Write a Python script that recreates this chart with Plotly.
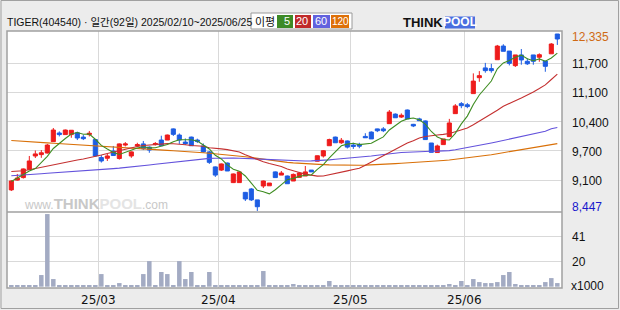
import plotly.graph_objects as go

# ---------------- data ----------------
days_feb = [10, 11, 12, 13, 14, 17, 18, 19, 20, 21, 24, 25, 26, 27, 28]
days_mar = [4, 5, 6, 7, 10, 11, 12, 13, 14, 17, 18, 19, 20, 21, 24, 25, 26, 27, 28, 31]
days_apr = [1, 2, 3, 4, 7, 8, 9, 10, 11, 14, 15, 16, 17, 18, 21, 22, 23, 24, 25, 28, 29, 30]
days_may = [2, 7, 8, 9, 12, 13, 14, 15, 16, 19, 20, 21, 22, 23, 26, 27, 28, 29, 30]
days_jun = [2, 4, 5, 9, 10, 11, 12, 13, 16, 17, 18, 19, 20, 23, 24, 25]
dates = ([f"2025-02-{d:02d}" for d in days_feb] + [f"2025-03-{d:02d}" for d in days_mar]
         + [f"2025-04-{d:02d}" for d in days_apr] + [f"2025-05-{d:02d}" for d in days_may]
         + [f"2025-06-{d:02d}" for d in days_jun])

opens = [8910, 9125, 9180, 9360, 9655, 9685, 9720, 9970, 10160, 10125,
         10125, 10165, 10070, 10125, 10015, 9620, 9605, 9765, 9600, 9895,
         9655, 9875, 9920, 9850, 9905, 10005, 10005, 10250, 10115, 9960,
         10070, 10005, 9875, 9745, 9415, 9345, 9500, 9070, 9070, 8855,
         8930, 8690, 8995, 9000, 9305, 9235, 9215, 9105, 9185, 9215,
         9345, 9540, 9655, 9880, 10070, 9945, 9985, 9895, 9910, 10085,
         10180, 10250, 10250, 10365, 10575, 10510, 10665, 10350, 10470, 10425,
         9940, 9730, 9905, 10080, 10585, 10805, 10780, 11025, 11375, 11590,
         11575, 11770, 12070, 11960, 11640, 11875, 11735, 11875, 11825, 11740,
         11900, 12335]
highs = [9125, 9260, 9380, 9655, 9775, 9785, 9920, 10270, 10195, 10235,
         10225, 10190, 10115, 10205, 10020, 9675, 9700, 9875, 9930, 9960,
         9755, 9945, 9985, 9865, 9960, 10100, 10125, 10260, 10150, 10040,
         10080, 10035, 9930, 9765, 9425, 9490, 9510, 9270, 9315, 8865,
         8950, 8690, 9115, 9060, 9315, 9325, 9225, 9270, 9305, 9435,
         9345, 9665, 9785, 10035, 10080, 10050, 9995, 9945, 9945, 10155,
         10195, 10255, 10290, 10665, 10590, 10590, 10675, 10360, 10495, 10435,
         9940, 9905, 10030, 10470, 10795, 10840, 10820, 11470, 11520, 11700,
         11680, 12095, 12110, 11960, 11875, 12005, 11800, 11875, 11910, 11740,
         12135, 12335]
lows = [8885, 9115, 9160, 9360, 9610, 9615, 9710, 9970, 10085, 10125,
        10055, 10005, 10005, 10085, 9645, 9510, 9545, 9655, 9575, 9865,
        9615, 9850, 9785, 9725, 9885, 9875, 10005, 10095, 9920, 9895,
        9875, 9940, 9730, 9480, 9195, 9325, 9325, 9060, 9070, 8665,
        8665, 8447, 8950, 9000, 9180, 9235, 9045, 9105, 9180, 9215,
        9305, 9535, 9620, 9880, 9945, 9920, 9820, 9810, 9825, 10055,
        10030, 10180, 10180, 10365, 10495, 10490, 10470, 10290, 10425, 10015,
        9735, 9730, 9905, 10075, 10585, 10705, 10705, 11025, 11285, 11485,
        11485, 11770, 11955, 11645, 11610, 11660, 11655, 11660, 11725, 11505,
        11900, 12095]
closes = [9105, 9170, 9370, 9545, 9700, 9725, 9895, 10225, 10125, 10225,
          10220, 10050, 10035, 10155, 9655, 9545, 9655, 9665, 9920, 9920,
          9745, 9905, 9815, 9785, 9930, 9880, 10115, 10130, 10005, 9925,
          9880, 9975, 9745, 9515, 9235, 9480, 9325, 9260, 9305, 8710,
          8690, 8540, 9105, 9060, 9180, 9280, 9045, 9250, 9280, 9305,
          9305, 9660, 9770, 10015, 9945, 10000, 9850, 9865, 9870, 10055,
          10030, 10210, 10210, 10620, 10495, 10550, 10470, 10315, 10430, 10015,
          9735, 9875, 10030, 10380, 10755, 10760, 10740, 11300, 11420, 11530,
          11530, 12070, 11955, 11690, 11875, 11765, 11680, 11735, 11880, 11625,
          12115, 12225]
volume_k = [0.8, 0.8, 0.8, 1.4, 1.4, 9.6, 59.8, 6.3, 0.8, 0.8,
            0.8, 0.8, 0.8, 0.8, 0.8, 10.4, 1.4, 1.4, 3.0, 0.8,
            1.4, 1.4, 10.4, 21.1, 0.8, 12.1, 10.4, 0.8, 21.1, 6.3,
            12.1, 0.8, 0.8, 12.1, 0.8, 0.8, 0.8, 0.8, 0.8, 0.8,
            0.8, 0.8, 12.9, 0.8, 1.4, 0.8, 0.8, 2.2, 0.8, 0.8,
            0.8, 0.8, 0.8, 4.7, 1.4, 0.8, 0.8, 0.8, 0.8, 1.4,
            0.8, 1.4, 0.8, 0.8, 0.8, 0.8, 0.8, 0.8, 0.8, 1.4,
            0.8, 0.8, 0.8, 2.2, 1.4, 4.7, 1.4, 6.3, 3.8, 3.0,
            3.0, 3.8, 9.6, 12.1, 2.2, 1.4, 1.4, 1.4, 0.8, 3.8,
            7.1, 3.0]
ma5 = [9094, 9171, 9248, 9325, 9378, 9503, 9648, 9820, 9934, 10039,
       10138, 10169, 10131, 10136, 10022, 9888, 9809, 9734, 9688, 9740,
       9780, 9830, 9859, 9833, 9835, 9863, 9905, 9969, 10013, 10013,
       10013, 9984, 9905, 9809, 9670, 9589, 9459, 9363, 9321, 9215,
       9057, 8901, 8870, 8822, 8914, 9033, 9134, 9163, 9207, 9233,
       9237, 9360, 9464, 9611, 9738, 9879, 9916, 9936, 9905, 9927,
       9934, 10006, 10074, 10226, 10314, 10417, 10470, 10490, 10452, 10356,
       10193, 10074, 10017, 10006, 10153, 10360, 10531, 10786, 10995, 11149,
       11302, 11570, 11700, 11755, 11823, 11871, 11792, 11748, 11788, 11737,
       11808, 11915]
ma20 = [9314, 9318, 9329, 9351, 9380, 9406, 9435, 9461, 9490, 9516,
        9545, 9567, 9589, 9615, 9644, 9677, 9710, 9743, 9769, 9795,
        9826, 9863, 9885, 9899, 9910, 9916, 9927, 9923, 9918, 9903,
        9885, 9881, 9868, 9835, 9815, 9811, 9795, 9773, 9743, 9683,
        9631, 9562, 9527, 9490, 9453, 9424, 9369, 9325, 9290, 9257,
        9228, 9213, 9215, 9239, 9275, 9301, 9327, 9358, 9387, 9453,
        9521, 9604, 9659, 9738, 9804, 9866, 9938, 9991, 10048, 10083,
        10105, 10116, 10129, 10147, 10189, 10226, 10270, 10342, 10419, 10494,
        10569, 10661, 10749, 10802, 10870, 10931, 10993, 11063, 11136, 11217,
        11335, 11452]
ma60 = [9222, 9228, 9235, 9244, 9253, 9264, 9275, 9283, 9294, 9305,
        9316, 9325, 9334, 9343, 9351, 9360, 9369, 9378, 9387, 9398,
        9413, 9428, 9444, 9457, 9472, 9488, 9505, 9523, 9538, 9554,
        9567, 9582, 9593, 9602, 9606, 9611, 9611, 9611, 9606, 9600,
        9593, 9584, 9576, 9567, 9560, 9554, 9549, 9545, 9545, 9545,
        9547, 9551, 9560, 9569, 9582, 9593, 9602, 9611, 9626, 9642,
        9655, 9672, 9690, 9707, 9721, 9732, 9738, 9747, 9751, 9756,
        9760, 9762, 9765, 9773, 9791, 9813, 9835, 9861, 9888, 9914,
        9940, 9967, 9995, 10024, 10050, 10077, 10105, 10131, 10164, 10200,
        10252, 10281]
ma120 = [9995, 9989, 9980, 9969, 9960, 9951, 9943, 9936, 9927, 9918,
         9910, 9901, 9892, 9881, 9872, 9861, 9852, 9844, 9835, 9826,
         9817, 9811, 9804, 9798, 9791, 9784, 9778, 9771, 9765, 9756,
         9747, 9738, 9727, 9716, 9705, 9692, 9679, 9666, 9653, 9637,
         9620, 9600, 9580, 9560, 9543, 9527, 9514, 9503, 9492, 9483,
         9477, 9470, 9464, 9459, 9455, 9453, 9450, 9450, 9450, 9453,
         9457, 9464, 9470, 9477, 9486, 9494, 9501, 9510, 9519, 9527,
         9536, 9545, 9556, 9567, 9582, 9598, 9613, 9628, 9644, 9661,
         9683, 9705, 9727, 9749, 9771, 9793, 9815, 9837, 9861, 9885,
         9910, 9927]

title_text = "TIGER(404540) · 일간(92일) 2025/02/10~2025/06/25"
legend_title = "이평"
ma_periods = ["5", "20", "60", "120"]
price_tick_labels = ["11,700", "11,100", "10,400", "9,700", "9,100"]
volume_tick_labels = ["41", "20"]
volume_unit = "x1000"

# ---------------- styling / geometry ----------------
W, H = 620, 310
L, R, T, B = 7, 562, 31, 288
SEP = 212
PRICE_RANGE = [8424, 12401]
VOL_RANGE = [-1.07, 61.5]
X_RANGE = [-0.72, 91.78]

RED = "#ee1c1c"
BLUE = "#1d5de3"
VOLC = "#a3abc3"
GRID = "#d9d9d9"
FRAME = "#a0a0a0"
MA_COLORS = ["#3f8d22", "#c43030", "#6352dc", "#d97008"]
LEG_COLORS = ["#3d8a26", "#c02a2a", "#6262de", "#de7008"]
FONT = "Liberation Sans, Arial, Noto Sans CJK KR"


def px(x):
    return (x - L) / (R - L)


def py(y):
    return (B - y) / (B - T)


idx = list(range(len(dates)))
month_pos, month_txt = [], []
for i in range(1, len(dates)):
    if dates[i][5:7] != dates[i - 1][5:7]:
        month_pos.append(i - 0.5)
        month_txt.append(dates[i][2:4] + "/" + dates[i][5:7])

grid_px = [63 + k * 29.25 for k in range(len(price_tick_labels))]
price_grid = [PRICE_RANGE[0] + (PRICE_RANGE[1] - PRICE_RANGE[0]) * (SEP - g) / (SEP - T) for g in grid_px]
vol_top = 61.5
vol_grid = [vol_top * 2 / 3, vol_top / 3]

fig = go.Figure()

for ma, col in zip([ma120, ma60, ma20, ma5], MA_COLORS[::-1]):
    fig.add_trace(go.Scatter(x=idx, y=ma, mode="lines", line=dict(color=col, width=1.1),
                             xaxis="x", yaxis="y", hoverinfo="skip"))

fig.add_trace(go.Candlestick(
    x=idx, open=opens, high=highs, low=lows, close=closes,
    increasing=dict(line=dict(color=RED, width=1), fillcolor=RED),
    decreasing=dict(line=dict(color=BLUE, width=1), fillcolor=BLUE),
    whiskerwidth=0, xaxis="x", yaxis="y"))

fig.add_trace(go.Bar(x=idx, y=volume_k, width=0.75, marker=dict(color=VOLC, line=dict(width=0)),
                     xaxis="x2", yaxis="y2"))

annotations = []
shapes = []

annotations.append(dict(x=px(570), y=max(highs), xref="paper", yref="y", xanchor="left", yanchor="middle",
                        text=f"{max(highs):,}", showarrow=False, yshift=-3,
                        font=dict(family=FONT, size=12, color="#cf6a14")))
for val, lab in zip(price_grid, price_tick_labels):
    annotations.append(dict(x=px(570), y=val, xref="paper", yref="y", xanchor="left", yanchor="middle",
                            text=lab, showarrow=False, yshift=-1,
                            font=dict(family=FONT, size=12, color="#111111")))
annotations.append(dict(x=px(570), y=min(lows), xref="paper", yref="y", xanchor="left", yanchor="middle",
                        text=f"{min(lows):,}", showarrow=False, yshift=4,
                        font=dict(family=FONT, size=12, color="#1818cc")))
for val, lab in zip(vol_grid, volume_tick_labels):
    annotations.append(dict(x=px(570), y=val, xref="paper", yref="y2", xanchor="left", yanchor="middle",
                            text=lab, showarrow=False,
                            font=dict(family=FONT, size=12, color="#111111")))
annotations.append(dict(x=px(569), y=py(286), xref="paper", yref="paper", xanchor="left", yanchor="middle",
                        text=volume_unit, showarrow=False,
                        font=dict(family=FONT, size=12, color="#111111")))

# month labels under the volume panel
for pos, lab in zip(month_pos, month_txt):
    annotations.append(dict(x=pos, y=py(300), xref="x2", yref="paper", xanchor="center", yanchor="middle",
                            text=lab, showarrow=False,
                            font=dict(family="DejaVu Sans", size=12, color="#111111")))

# header
annotations.append(dict(x=px(5), y=py(22), xref="paper", yref="paper", xanchor="left", yanchor="middle",
                        text=title_text, showarrow=False,
                        font=dict(family=FONT, size=10.5, color="#111111")))

# MA legend box
shapes.append(dict(type="rect", xref="paper", yref="paper", x0=px(251), x1=px(352), y0=py(29), y1=py(13),
                   fillcolor="white", line=dict(color="#9a9a9a", width=1)))
annotations.append(dict(x=px(265), y=py(21), xref="paper", yref="paper", xanchor="center", yanchor="middle",
                        text=legend_title, showarrow=False,
                        font=dict(family="Noto Sans CJK KR", size=11, color="#111111")))
box_edges = [(277, 293), (295, 311), (313, 330), (331, 349)]
for (x0, x1), col, lab in zip(box_edges, LEG_COLORS, ma_periods):
    shapes.append(dict(type="rect", xref="paper", yref="paper", x0=px(x0), x1=px(x1), y0=py(28), y1=py(15),
                       fillcolor=col, line=dict(width=0)))
    if len(lab) > 2:
        annotations.append(dict(x=px((x0 + x1) / 2), y=py(21.5), xref="paper", yref="paper",
                                xanchor="center", yanchor="middle", text=lab, showarrow=False,
                                font=dict(family=FONT, size=10, color="white")))
    else:
        annotations.append(dict(x=px(x1 - 1), y=py(21.5), xref="paper", yref="paper", xanchor="right",
                                yanchor="middle", text=lab, showarrow=False,
                                font=dict(family=FONT, size=11, color="white")))

# ThinkPool logo
annotations.append(dict(x=px(445), y=py(22.5), xref="paper", yref="paper", xanchor="right", yanchor="middle",
                        text="<b>THINK</b>", showarrow=False,
                        font=dict(family=FONT, size=13, color="#111111")))
shapes.append(dict(type="rect", xref="paper", yref="paper", x0=px(445), x1=px(475), y0=py(28.5), y1=py(16.5),
                   fillcolor="#4a6fe0", line=dict(width=0)))
annotations.append(dict(x=px(460), y=py(22.5), xref="paper", yref="paper", xanchor="center", yanchor="middle",
                        text="<b>POOL</b>", showarrow=False,
                        font=dict(family=FONT, size=12, color="white")))

# watermark
annotations.append(dict(x=px(22), y=py(203), xref="paper", yref="paper", xanchor="left", yanchor="middle",
                        text=("<span style='font-size:12px'>www.</span><b>THINK</b>"
                              "<b><span style='color:#e4e4e4'>POOL</span></b>"
                              "<span style='font-size:12px'>.com</span>"),
                        showarrow=False, font=dict(family=FONT, size=15, color="#c8c8c8")))

# frames
shapes.append(dict(type="rect", xref="paper", yref="paper", x0=px(L), x1=px(R), y0=py(B), y1=py(T),
                   line=dict(color=FRAME, width=1.5), fillcolor="rgba(0,0,0,0)", layer="above"))
shapes.append(dict(type="line", xref="paper", yref="paper", x0=px(L), x1=px(R), y0=py(SEP), y1=py(SEP),
                   line=dict(color=FRAME, width=1.5), layer="above"))
shapes.append(dict(type="rect", xref="paper", yref="paper", x0=px(1), x1=px(618.5), y0=py(308.5), y1=py(0.5),
                   line=dict(color=FRAME, width=1), fillcolor="rgba(0,0,0,0)"))

axis_common = dict(automargin=False, zeroline=False, showline=False, ticks="", showgrid=True,
                   gridcolor=GRID, gridwidth=1, showticklabels=False)

fig.update_layout(
    width=W, height=H, autosize=False,
    margin=dict(l=L, r=W - R, t=T, b=H - B, pad=0, autoexpand=False),
    paper_bgcolor="#ececec", plot_bgcolor="white",
    showlegend=False, boxgap=0.2, boxgroupgap=0.15,
    xaxis=dict(domain=[0, 1], range=X_RANGE, anchor="y", tickvals=month_pos,
               rangeslider=dict(visible=False), **axis_common),
    xaxis2=dict(domain=[0, 1], range=X_RANGE, anchor="y2", matches="x", tickvals=month_pos,
                **axis_common),
    yaxis=dict(domain=[py(SEP), 1], range=PRICE_RANGE, anchor="x", tickvals=price_grid, **axis_common),
    yaxis2=dict(domain=[0, py(SEP)], range=VOL_RANGE, anchor="x2", tickvals=vol_grid, **axis_common),
    annotations=annotations, shapes=shapes,
)

fig.write_html("out.html")
